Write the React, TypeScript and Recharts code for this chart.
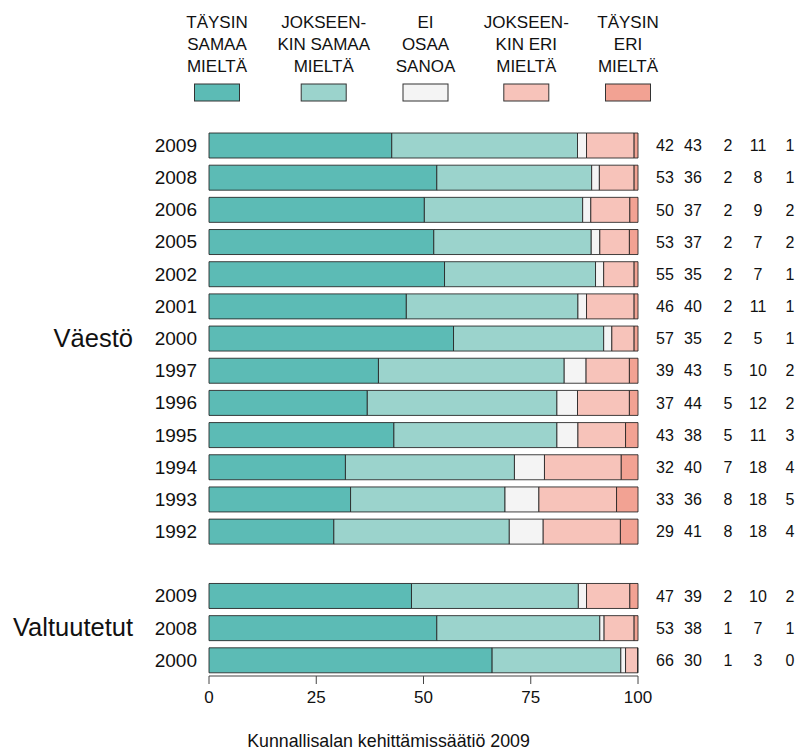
import { Bar, BarChart, XAxis, YAxis } from "recharts"

// rows from top to bottom; the empty one is the gap between the two groups
const years = [
  "2009", "2008", "2006", "2005", "2002", "2001", "2000", "1997",
  "1996", "1995", "1994", "1993", "1992", "", "2009", "2008", "2000",
]

// group label and the row it sits on
const groupLabels = ["Väestö", "Valtuutetut"]
const groupRows = [6, 15]

// bar lengths (%)
const fullyAgree = [42.6, 53.1, 50.2, 52.4, 54.9, 46.0, 57.0, 39.5, 36.9, 43.1, 31.8, 33.0, 29.1, null, 47.2, 53.1, 66.0]
const partlyAgree = [43.3, 36.1, 36.9, 36.7, 35.2, 40.0, 35.0, 43.3, 44.2, 38.0, 39.4, 36.0, 40.9, null, 38.9, 38.0, 30.0]
const cannotSay = [2.1, 1.8, 1.9, 2.0, 1.9, 2.0, 1.9, 5.1, 4.8, 4.9, 7.0, 7.9, 7.9, null, 1.9, 1.0, 1.1]
const partlyDisagree = [11.1, 8.1, 9.1, 6.9, 7.1, 11.1, 5.2, 10.1, 12.1, 11.1, 17.9, 18.1, 18.0, null, 10.1, 7.0, 2.8]
const fullyDisagree = [0.9, 0.9, 1.9, 2.0, 0.9, 0.9, 0.9, 2.0, 2.0, 2.9, 3.9, 5.0, 4.1, null, 1.9, 0.9, 0.1]

// rounded numbers printed at the right
const printedNumbers = [
  [42, 43, 2, 11, 1], [53, 36, 2, 8, 1], [50, 37, 2, 9, 2], [53, 37, 2, 7, 2],
  [55, 35, 2, 7, 1], [46, 40, 2, 11, 1], [57, 35, 2, 5, 1], [39, 43, 5, 10, 2],
  [37, 44, 5, 12, 2], [43, 38, 5, 11, 3], [32, 40, 7, 18, 4], [33, 36, 8, 18, 5],
  [29, 41, 8, 18, 4], [], [47, 39, 2, 10, 2], [53, 38, 1, 7, 1], [66, 30, 1, 3, 0],
]

const legendLines = [
  ["TÄYSIN", "SAMAA", "MIELTÄ"],
  ["JOKSEEN-", "KIN SAMAA", "MIELTÄ"],
  ["EI", "OSAA", "SANOA"],
  ["JOKSEEN-", "KIN ERI", "MIELTÄ"],
  ["TÄYSIN", "ERI", "MIELTÄ"],
]
const seriesKeys = ["s0", "s1", "s2", "s3", "s4"]
const colors = ["#5cbbb5", "#9bd3cc", "#f4f4f4", "#f7c3ba", "#f2a293"]
const xTicks = [0, 25, 50, 75, 100]

const FONT = '"Liberation Sans", Arial, sans-serif'

const data = years.map((year, i) => ({
  id: `row${i}`,
  year,
  s0: fullyAgree[i],
  s1: partlyAgree[i],
  s2: cannotSay[i],
  s3: partlyDisagree[i],
  s4: fullyDisagree[i],
}))

function rowIndex(value: string) {
  return data.findIndex((d) => d.id === value)
}

function LeftTick(props: any) {
  const { x, y, payload } = props
  const i = rowIndex(payload.value)
  const g = groupRows.indexOf(i)
  return (
    <g fontFamily={FONT} fill="#111">
      <text x={x - 12} y={y} dy="0.36em" textAnchor="end" fontSize={19}>
        {years[i]}
      </text>
      {g >= 0 && (
        <text x={x - 76} y={y} dy="0.34em" textAnchor="end" fontSize={25.5}>
          {groupLabels[g]}
        </text>
      )}
    </g>
  )
}

const numberCols = [27, 55, 90, 120, 152]

function RightTick(props: any) {
  const { x, y, payload } = props
  const nums = printedNumbers[rowIndex(payload.value)] || []
  return (
    <g fontFamily={FONT} fill="#111" fontSize={16}>
      {nums.map((n, k) => (
        <text key={k} x={x + numberCols[k]} y={y} dy="0.38em" textAnchor="middle">
          {n}
        </text>
      ))}
    </g>
  )
}

const legendCenters = [217, 323.7, 425.5, 526.3, 628]

function TopLegend() {
  return (
    <svg
      width={799}
      height={110}
      style={{ position: "absolute", left: 0, top: 0, pointerEvents: "none" }}
    >
      {legendLines.map((lines, k) => (
        <g key={k}>
          {lines.map((line, j) => (
            <text
              key={j}
              x={legendCenters[k]}
              y={28.3 + j * 21.7}
              textAnchor="middle"
              fontFamily={FONT}
              fontSize={17}
              fill="#111"
            >
              {line}
            </text>
          ))}
          <rect
            x={legendCenters[k] - 22.5}
            y={84}
            width={45}
            height={17}
            fill={colors[k]}
            stroke="#333"
            strokeWidth={1}
          />
        </g>
      ))}
    </svg>
  )
}

export default function App() {
  return (
    <div
      style={{
        position: "absolute",
        left: 0,
        top: 0,
        width: 799,
        height: 750,
        background: "#fff",
      }}
    >
      <BarChart
        width={799}
        height={750}
        data={data}
        layout="vertical"
        margin={{ top: 129, right: 1, bottom: 0, left: 0 }}
        barSize={25}
      >
        <XAxis
          type="number"
          domain={[0, 100]}
          ticks={xTicks}
          height={74}
          tickSize={8}
          tickMargin={7}
          stroke="#444"
          tick={{ fill: "#111", fontSize: 17, fontFamily: FONT }}
          label={{
            value: "Kunnallisalan kehittämissäätiö 2009",
            position: "insideBottom",
            offset: 3,
            dx: -35,
            fill: "#111",
            fontSize: 17.8,
            fontFamily: FONT,
          }}
        />
        <YAxis
          yAxisId="left"
          type="category"
          dataKey="id"
          width={209}
          interval={0}
          tickSize={0}
          tickMargin={0}
          tickLine={false}
          axisLine={false}
          tick={<LeftTick />}
        />
        <YAxis
          yAxisId="right"
          orientation="right"
          type="category"
          dataKey="id"
          width={160}
          interval={0}
          tickSize={0}
          tickMargin={0}
          tickLine={false}
          axisLine={false}
          tick={<RightTick />}
        />
        {seriesKeys.map((key, k) => (
          <Bar
            key={key}
            yAxisId="left"
            dataKey={key}
            stackId="a"
            fill={colors[k]}
            stroke="#222"
            strokeOpacity={0.85}
            strokeWidth={1}
            isAnimationActive={false}
          />
        ))}
      </BarChart>
      <TopLegend />
    </div>
  )
}
